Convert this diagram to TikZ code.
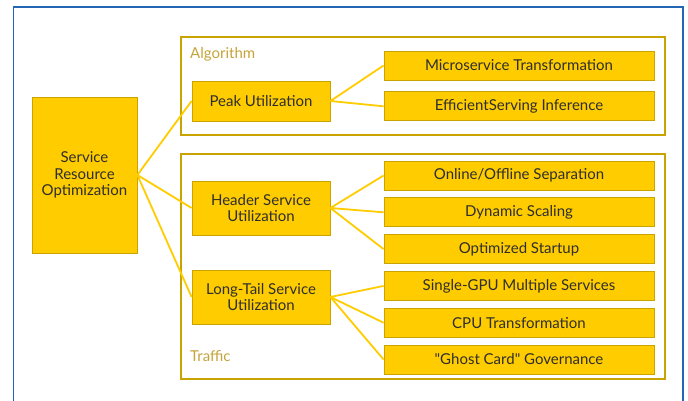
\documentclass[tikz,border=0pt]{standalone}
\usepackage{fontspec}
\setmainfont{Lato}
\usepackage{tikz}
\usetikzlibrary{positioning}
\definecolor{gold}{HTML}{FFCC00}
\definecolor{goldline}{HTML}{C9A300}
\definecolor{grouptext}{HTML}{C4A43A}
\definecolor{frameblue}{HTML}{2466B4}
\definecolor{inktext}{HTML}{2E2E2E}
\tikzset{
    font={\fontsize{15pt}{16.5}\selectfont},
    box/.style={
        rectangle,
        fill=gold,
        draw=goldline, line width=0.8pt,
        text=inktext,
        align=center,
        inner sep=0pt
    },
    leaf/.style={box, minimum width=270pt, minimum height=29pt},
    branch/.style={box, minimum width=138pt},
    group/.style={rectangle, draw=goldline, line width=2.5pt, inner sep=0pt},
    grouplabel/.style={text=grouptext, anchor=base west, inner sep=0pt},
    link/.style={draw=gold, line width=1.8pt},
}

\begin{document}
\begin{tikzpicture}[x=1pt,y=-1pt]
        \useasboundingbox (0,0) rectangle (688,401);
        % outer frame
        \draw[frameblue, line width=1.5pt] (13.5,7) rectangle (683,430);

        % the two groups
        \node[group, minimum width=484pt, minimum height=98pt]  (algo)    at (423,86)    {};
        \node[group, minimum width=484pt, minimum height=225pt] (traffic) at (423,266.5) {};
        \node[grouplabel] (algolabel)    at (190,59)  {Algorithm};
        \node[grouplabel] (trafficlabel) at (190,361) {Traffic};

        % root and branches
        \node[box, minimum width=105pt, minimum height=156pt] (root) at (84.5,175) {Service\\Resource\\Optimization};
        \node[branch, minimum height=40pt] (peak)   at (261,101) {Peak Utilization};
        \node[branch, minimum height=54pt] (header) at (261,208) {Header Service\\Utilization};
        \node[branch, minimum height=54pt] (tail)   at (261,297) {Long-Tail Service\\Utilization};

        % leaves
        \node[leaf] (micro)  at (519,65.5)  {Microservice Transformation};
        \node[leaf, below=11pt of micro] (serving) {EfficientServing Inference};

        \node[leaf] (online) at (519,175.5) {Online/Offline Separation};
        \node[leaf, below=7pt of online]  (scaling) {Dynamic Scaling};
        \node[leaf, below=7pt of scaling] (startup) {Optimized Startup};
        \node[leaf, below=7pt of startup] (gpu)     {Single-GPU Multiple Services};
        \node[leaf, below=7pt of gpu]     (cpu)     {CPU Transformation};
        \node[leaf, below=7pt of cpu]     (ghost)   {\textquotedbl Ghost Card\textquotedbl{} Governance};

    \draw[link]
          (root.east) -- (peak.west)
          (root.east) -- (header.west)
          (root.east) -- (tail.west)
          (peak.east) -- (micro.west)
          (peak.east) -- (serving.west)
          (header.east) -- (online.west)
          (header.east) -- (scaling.west)
          (header.east) -- (startup.west)
          (tail.east) -- (gpu.west)
          (tail.east) -- (cpu.west)
          (tail.east) -- (ghost.west);

\end{tikzpicture}
\end{document}
